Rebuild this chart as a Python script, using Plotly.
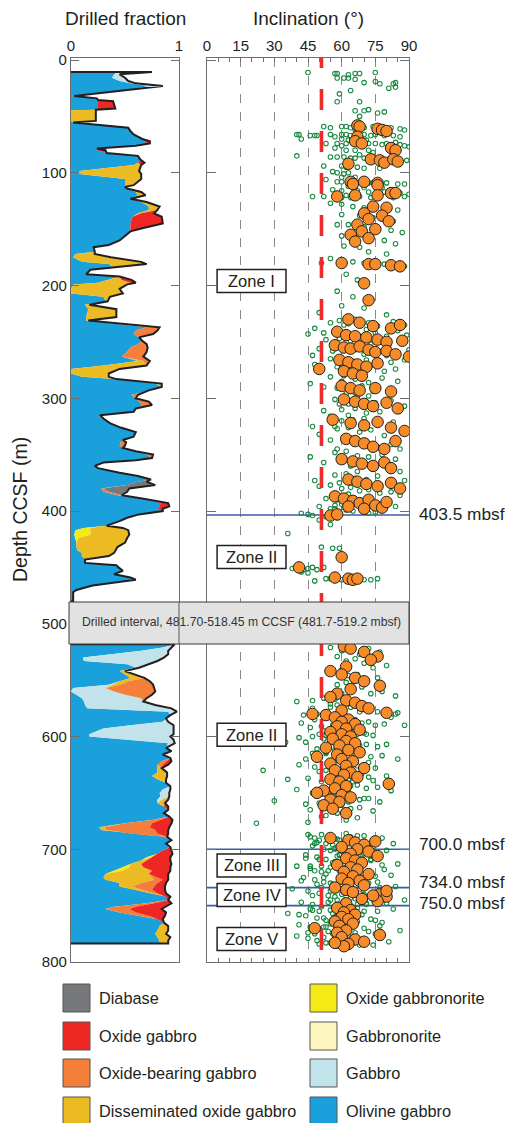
import plotly.graph_objects as go

W, H = 517, 1123
OFF = 8  # page body margin in the browser
def px(x): return (x - OFF) / W
def py(y): return 1 - (y - OFF) / H

FONT = "Liberation Sans, Arial, Helvetica, sans-serif"
INK = "#231f20"
FRAME = "#6d6e70"

# ---------------- Lithology fractions (depth m CCSF -> fraction) ----------------
olivine_gabbro = {
    10.6: .43, 12.7: .40, 15.7: .38, 18.6: .45, 20.7: .55, 23: .72, 25: .62, 32: 0.0, 34: .24, 35.5: .25,
    36.5: .25, 43: .25, 44: .23, 44.5: 0.0, 54: 0.0, 55.5: .02, 60: .53, 63: .55, 66: .58, 70: .66,
    72: .70, 74: .68, 76: .60, 78.5: .24, 80: .24, 82.5: .33, 85: .62, 88: .64, 91: .62, 93: .58,
    98.5: .08, 101: .08, 105.5: .50, 111: .50, 112.5: .50, 114: .52, 117: .60, 120: .62, 123: .55, 126: .65,
    130: .72, 133: .72, 136: .62, 139: .57, 145: .55, 149: .55, 152: .55, 156: .50, 160: .45, 164: .35,
    166: .21, 170: .22, 172: .04, 175: .02, 179: .10, 181: .35, 184: .38, 186: .18, 190: .14, 192: .45,
    195: .33, 197.5: .25, 199: .02, 203: 0.0, 207: 0.0, 210: .30, 214: .32, 217: .13, 221: .16, 228: .14,
    231: .14, 237: .70, 240: .60, 243: .58, 246: .63, 249: .66, 252: .62, 255: .55, 259: .52, 263: .47,
    267: .62, 271: .30, 274: 0.0, 278: 0.0, 281: .10, 283: .40, 287: .78, 290: .84, 293: .72, 297: .56,
    300: .60, 303: .63, 306: .66, 309: .60, 312: .58, 315: .24, 318: .30, 322: .36, 326: .46, 330: .60,
    334: .58, 337: .48, 339: .46, 342: .45, 344: .48, 347: .60, 350: .70, 353: .75, 355: .60, 357: .30,
    360: .22, 362: .25, 366: .45, 369: .62, 372: .74, 374: .62, 377: .52, 380: .28, 383: .30, 386: .43,
    389: .66, 393: .83, 396: .82, 398: .80, 400: .85, 403: .63, 406: .52, 409: .45, 413: .33, 415: .12,
    417: .04, 421: .03, 424: .04, 428: .05, 432: .05, 435: .06, 437: .10, 440: .10, 443: .13, 446: .13,
    448: .42, 450: .44, 453: .48, 456: .40, 459: .55, 461: .60, 463: .45, 466: .20, 470: .05, 472: .02,
    480: .02,
    518.2: .96, 521: .85, 524: .65, 527: .40, 530: .11, 533: .12, 536: .52, 539: .60, 542: .45, 545: .50,
    548: .55, 551: .45, 554: .35, 557: .02, 560: 0.0, 563: .05, 566: .10, 569: .12, 572: .13, 575: .15,
    578: .90, 581: .92, 584: .88, 587: .85, 590: .55, 593: .30, 598: .17, 600: .17, 603: .55, 606: .90,
    610: .88, 613: .93, 616: .85, 619: .92, 622: .84, 625: .80, 628: .80, 632: .80, 635: .75, 638: .80,
    641: .88, 644: .92, 647: .85, 650: .82, 653: .83, 656: .80, 659: .80, 662: .86, 665: .90, 668: .86,
    671: .91, 674: .75, 677: .50, 680.5: .26, 683: .28, 686: .55, 689: .86, 692: .93, 695: .88, 698: .92,
    701: .85, 704: .80, 707: .70, 710: .65, 713: .55, 716: .48, 719: .40, 722: .32, 725: .30, 727: .32,
    730: .45, 733: .45, 736: .60, 739: .75, 742: .87, 745: .90, 748: .70, 751: .40, 753: .32, 756: .45,
    759: .62, 762: .80, 765: .86, 768: .82, 772: .80, 775: .78, 778: .80, 781: .82, 783.5: .82,
}
gabbro = {
    10.6: .32, 12.7: .05, 15.7: .12, 18.6: .08, 20.7: .05, 23: .13,
    521: .08, 524: .25, 527: .50, 530: .75, 533: .68, 536: .20, 539: .03, 554: .03, 557: .30, 560: .40,
    563: .45, 566: .55, 569: .55, 572: .65, 575: .78, 578: .08, 587: .05, 590: .40, 593: .65, 598: .78,
    600: .75, 603: .40, 606: .06, 647: .07, 650: .09, 653: .08, 656: .04,
}
gabbronorite = {}
oxide_gabbronorite = {
    415: .06, 417: .14, 421: .15, 424: .03, 707: .05, 716: .06, 719: .08,
}
dissem_oxide_gabbro = {
    44.5: .23, 54: .23, 93: .07, 98.5: .55, 101: .57, 105.5: .15, 111: .08, 117: .05, 120: .07, 126: .05,
    130: .10, 133: .08, 136: .03, 172: .18, 175: .35, 179: .55, 181: .35, 195: .14, 197.5: .30, 199: .50,
    203: .45, 207: .48, 210: .06, 214: .02, 217: .04, 221: .26, 228: .28, 231: .02, 267: .05, 271: .40,
    274: .45, 278: .35, 281: .25, 283: .02, 287: .06, 415: .30, 417: .35, 421: .36, 424: .45, 428: .45,
    432: .38, 435: .35, 437: .30, 440: .25,
    542: .05, 545: .10, 548: .13, 551: .08, 554: .08, 628: .04, 632: .09, 635: .14, 638: .08, 656: .06,
    659: .07, 680.5: .05, 683: .05, 710: .05, 713: .10, 716: .13, 719: .27, 722: .40, 725: .45, 727: .45,
    730: .20, 733: .12, 736: .05, 768: .08, 772: .10, 775: .10, 778: .12, 781: .08, 783.5: .08,
}
oxide_bearing_gabbro = {
    237: .12, 240: .20, 243: .18, 252: .08, 255: .16, 259: .18, 263: .20, 267: .06, 297: .06, 303: .09,
    306: .09, 339: .05, 342: .05, 350: .04, 380: .02, 383: .05, 386: .04,
    551: .20, 554: .30, 557: .45, 560: .38, 563: .25, 566: .05, 622: .04, 625: .05, 674: .08, 677: .25,
    680.5: .42, 683: .45, 686: .25, 689: .03, 725: .05, 727: .08, 730: .15, 733: .20, 736: .10, 739: .05,
    748: .07, 751: .20, 753: .22, 756: .15, 759: .10,
}
oxide_gabbro = {
    25: .05, 32: .03, 36.5: .14, 43: .16, 72: .03, 74: .05, 80: .08, 91: .06, 136: .12, 139: .27,
    145: .30, 149: .12, 195: .09, 197.5: .05, 315: .03, 393: .07, 396: .09, 398: .05,
    622: .05, 625: .05, 662: .04, 674: .11, 677: .18, 680.5: .18, 683: .12, 686: .10, 701: .08, 704: .14,
    707: .17, 710: .22, 713: .28, 716: .25, 719: .17, 722: .18, 725: .10, 727: .05, 730: .08, 733: .10,
    736: .12, 739: .08, 742: .05, 748: .16, 751: .28, 753: .30, 756: .28, 759: .15, 762: .05,
}
diabase = {350: .02, 374: .08, 377: .26, 380: .24, 383: .17}

lith_names = ["Olivine gabbro", "Gabbro", "Gabbronorite", "Oxide gabbronorite",
              "Disseminated oxide gabbro", "Oxide-bearing gabbro", "Oxide gabbro", "Diabase"]
lith_colors = ["#1aa0da", "#c2e3ea", "#fdf6be", "#f6ea16", "#ecbb23", "#f47f3a", "#ee2624", "#77787b"]
lith_data = [olivine_gabbro, gabbro, gabbronorite, oxide_gabbronorite,
             dissem_oxide_gabbro, oxide_bearing_gabbro, oxide_gabbro, diabase]

# ---------------- Inclination data ----------------
green_depth = [
    11, 12, 12, 13, 12, 12, 11, 16, 16, 16,
    17, 20, 21, 21, 20, 25, 24, 19, 30, 37,
    37, 27, 45, 45, 44, 47, 46, 50, 59, 60,
    59, 59, 60, 60, 59, 60, 61, 62, 66, 66,
    67, 67, 67, 66, 66, 66, 67, 67, 66, 67,
    66, 67, 67, 68, 70, 70, 71, 71, 74, 74,
    74, 74, 73, 74, 74, 75, 74, 73, 75, 76,
    77, 78, 80, 80, 80, 82, 81, 85, 86, 86,
    86, 87, 87, 87, 88, 88, 89, 89, 94, 94,
    95, 95, 96, 99, 100, 100, 101, 104, 106, 108,
    108, 108, 109, 109, 109, 110, 110, 112, 113, 113,
    115, 116, 116, 117, 117, 117, 118, 119, 121, 121,
    122, 122, 122, 121, 122, 122, 122, 121, 127, 128,
    130, 131, 129, 132, 133, 137, 138, 140, 141, 143,
    146, 146, 148, 150, 151, 153, 156, 157, 159, 160,
    163, 165, 166, 170, 172, 176, 178, 179, 180, 181,
    182, 183, 180, 190, 195, 205, 210, 218, 220, 224,
    226, 230, 231, 232, 233, 233, 234, 235, 236, 238,
    239, 240, 240, 241, 242, 242, 243, 244, 245, 247,
    248, 249, 249, 250, 251, 252, 253, 255, 256, 257,
    257, 258, 259, 260, 261, 262, 264, 265, 266, 266,
    267, 268, 268, 270, 271, 272, 273, 274, 275, 276,
    280, 281, 282, 283, 285, 286, 289, 290, 291, 292,
    293, 294, 296, 298, 299, 301, 302, 303, 304, 305,
    307, 309, 310, 312, 313, 316, 318, 319, 320, 321,
    322, 325, 326, 327, 328, 330, 331, 333, 336, 337,
    338, 340, 341, 343, 345, 347, 348, 350, 351, 352,
    354, 356, 357, 358, 360, 361, 363, 365, 367, 368,
    369, 371, 372, 373, 375, 377, 378, 379, 380, 381,
    382, 383, 384, 386, 388, 389, 390, 391, 392, 393,
    394, 395, 396, 397, 398, 399, 400, 401, 402, 403,
    402, 404, 405, 406, 408, 412, 420, 432, 433, 433,
    451, 451, 452, 451, 450, 452, 450, 454, 460, 460,
    461, 461, 462, 461, 462, 461, 461, 460, 455, 462,
    520, 521, 522, 524, 525, 527, 529, 531, 533, 535,
    537, 539, 541, 543, 545, 546, 548, 550, 552, 554,
    556, 558, 560, 562, 564, 566, 568, 570, 571, 572,
    573, 574, 575, 576, 577, 578, 579, 580, 581, 582,
    583, 584, 585, 586, 587, 588, 589, 590, 591, 592,
    593, 594, 595, 596, 597, 598, 599, 600, 601, 602,
    603, 604, 605, 606, 607, 608, 609, 610, 611, 612,
    613, 614, 615, 616, 617, 618, 619, 620, 621, 622,
    623, 624, 625, 626, 627, 628, 629, 630, 631, 632,
    633, 634, 635, 636, 637, 638, 639, 640, 641, 642,
    643, 644, 645, 646, 647, 648, 649, 650, 651, 652,
    653, 654, 655, 656, 657, 658, 659, 660, 661, 662,
    663, 664, 665, 666, 668, 670, 672, 674, 676, 677,
    630, 585, 595, 605, 615, 625, 640, 650, 660, 610,
    686, 687, 688, 689, 690, 691, 692, 693, 694, 695,
    696, 697, 698, 699, 700, 701, 702, 703, 704, 705,
    706, 707, 708, 709, 710, 711, 712, 713, 714, 715,
    716, 717, 718, 719, 720, 721, 722, 723, 724, 725,
    726, 727, 728, 729, 730, 731, 732, 733, 734, 735,
    736, 737, 738, 739, 740, 741, 742, 743, 744, 745,
    746, 747, 748, 749, 750, 751, 752, 753, 754, 755,
    756, 757, 758, 759, 760, 761, 762, 763, 764, 765,
    766, 767, 768, 769, 770, 771, 772, 773, 774, 775,
    776, 777, 778, 779, 780, 781, 782, 783, 784, 785,
    690, 700, 710, 720, 730, 740, 750, 760, 770, 780,
    695, 705, 715, 725, 735, 745, 755, 765, 775, 785,
    687, 689, 691, 693, 695, 697, 699, 701, 703, 705,
    707, 709, 711, 713, 715, 717, 719, 721, 723, 725,
    727, 729, 731, 733, 735, 737, 739, 741, 743, 745,
    747, 749, 751, 753, 755, 757, 759, 761, 763, 765,
    767, 769, 771, 773, 775, 777, 779, 781, 783, 785,
    688, 698, 708, 718, 728, 738, 748, 758, 768, 778,
    692, 702, 712, 722, 732, 742, 752, 762, 772, 782,
    694, 704, 714, 724, 734, 744, 754, 764, 774, 784,
    706, 716, 726, 736, 746, 756, 766, 776, 786, 696,
    709, 719, 729, 739, 749, 759, 769, 779, 689, 699,
    562, 567, 571, 574, 578, 582, 586, 590, 594, 598,
    602, 606, 610, 614, 618, 622, 626, 630, 634, 638,
    642, 646, 650, 654, 658, 662, 666, 578, 588, 598,
    569, 577, 583, 591, 599, 607, 615, 623, 631, 639,
    647, 655, 663, 671, 620, 605, 590, 580, 575, 600,
    235, 245, 255, 265, 275, 285, 295, 305, 315, 325,
    335, 345, 355, 365, 375, 385, 395, 398, 394, 390,
    62, 68, 72, 76, 84, 90, 96, 104, 112, 120,
    243, 262, 287, 311, 332, 352, 373, 396, 399, 401,
]
green_incl = [
    45, 57, 58, 63, 66, 68, 75, 58, 61, 63,
    66, 70, 77, 83, 84, 81, 84, 75, 59, 58,
    68, 64, 66, 70, 72, 76, 79, 68, 52, 55,
    60, 62, 64, 70, 74, 82, 86, 88, 40, 41,
    46, 48, 49, 55, 60, 62, 64, 66, 70, 73,
    75, 79, 83, 86, 42, 60, 63, 71, 53, 58,
    62, 65, 70, 72, 75, 78, 80, 84, 86, 88,
    90, 57, 62, 66, 72, 74, 85, 40, 55, 58,
    61, 64, 66, 70, 76, 81, 86, 89, 52, 60,
    62, 67, 77, 56, 58, 63, 61, 66, 53, 58,
    60, 68, 72, 74, 80, 85, 88, 63, 70, 78,
    56, 60, 67, 72, 76, 79, 86, 90, 47, 52,
    57, 60, 64, 68, 73, 77, 83, 88, 55, 60,
    65, 70, 75, 80, 85, 60, 68, 74, 78, 83,
    58, 63, 70, 75, 82, 87, 60, 66, 72, 79,
    84, 61, 68, 72, 80, 55, 60, 65, 70, 79,
    84, 88, 51, 62, 67, 58, 65, 60, 70, 50,
    80, 66, 59, 83, 55, 72, 63, 88, 76, 48,
    71, 57, 85, 62, 52, 75, 66, 89, 80, 59,
    53, 77, 64, 86, 69, 73, 81, 61, 50, 90,
    66, 56, 75, 85, 70, 80, 60, 55, 71, 88,
    65, 76, 82, 48, 73, 58, 63, 84, 68, 79,
    61, 55, 78, 66, 85, 72, 69, 52, 58, 64,
    81, 74, 62, 72, 67, 57, 82, 68, 75, 63,
    88, 66, 60, 77, 71, 55, 70, 65, 60, 83,
    76, 47, 63, 58, 73, 68, 87, 79, 61, 55,
    71, 66, 82, 76, 86, 62, 57, 78, 67, 72,
    84, 59, 52, 69, 64, 80, 74, 86, 62, 57,
    76, 66, 71, 88, 81, 55, 50, 64, 60, 72,
    68, 82, 77, 86, 58, 53, 66, 62, 73, 70,
    80, 77, 84, 61, 57, 69, 65, 75, 72, 45,
    42, 47, 53, 58, 50, 55, 36, 51, 56, 59,
    38, 40, 43, 45, 47, 49, 52, 42, 53, 55,
    60, 62, 64, 66, 68, 70, 73, 76, 45, 48,
    64, 55, 72, 60, 77, 68, 58, 66, 62, 70,
    80, 74, 60, 56, 67, 63, 76, 71, 62, 58,
    69, 65, 78, 73, 84, 52, 47, 61, 55, 58,
    67, 64, 73, 70, 80, 76, 85, 49, 43, 53,
    60, 57, 66, 63, 72, 69, 79, 75, 51, 46,
    58, 55, 64, 61, 70, 67, 74, 47, 41, 52,
    59, 56, 65, 62, 71, 68, 76, 54, 49, 57,
    63, 60, 69, 66, 78, 73, 50, 44, 58, 55,
    64, 61, 70, 67, 48, 75, 57, 53, 63, 60,
    69, 66, 80, 72, 45, 36, 55, 51, 61, 58,
    67, 64, 76, 71, 40, 82, 52, 47, 59, 56,
    65, 62, 72, 68, 30, 77, 50, 44, 60, 55,
    68, 64, 46, 74, 58, 53, 67, 62, 45, 22,
    25, 48, 52, 44, 53, 41, 65, 54, 58, 61,
    62, 45, 70, 54, 78, 58, 50, 66, 74, 83,
    56, 47, 72, 60, 52, 80, 64, 68, 76, 44,
    61, 49, 69, 53, 73, 57, 65, 85, 78, 40,
    55, 46, 67, 59, 51, 71, 63, 82, 75, 43,
    60, 48, 68, 52, 72, 56, 64, 84, 77, 38,
    58, 45, 66, 50, 70, 54, 62, 80, 74, 88,
    63, 42, 71, 47, 59, 51, 67, 83, 55, 76,
    61, 36, 69, 44, 57, 49, 73, 53, 65, 78,
    58, 41, 62, 46, 70, 50, 86, 54, 66, 75,
    57, 40, 65, 45, 61, 49, 81, 53, 69, 74,
    48, 57, 62, 66, 55, 60, 64, 58, 63, 59,
    53, 59, 51, 61, 65, 55, 50, 62, 56, 60,
    51, 64, 57, 70, 48, 61, 67, 55, 73, 59,
    63, 50, 68, 58, 46, 65, 54, 72, 61, 52,
    66, 59, 49, 71, 62, 55, 68, 47, 64, 58,
    54, 67, 60, 46, 70, 56, 63, 52, 75, 59,
    64, 53, 60, 72, 48, 57, 66, 62, 55, 68,
    67, 74, 44, 79, 42, 76, 80, 41, 77, 52,
    59, 61, 56, 53, 60, 57, 62, 56, 59, 63,
    49, 70, 65, 68, 51, 66, 47, 67, 45, 50,
    58, 62, 63, 57, 61, 60, 55, 63, 58, 65,
    73, 48, 76, 64, 71, 58, 52, 67, 46, 57,
    60, 57, 63, 55, 68, 59, 62, 56, 65, 50,
    61, 57, 64, 53, 60, 66, 56, 62, 58, 63,
    57, 62, 55, 60, 63, 52, 61, 46, 42, 71,
    40, 72, 82, 66, 53, 80, 47, 72, 50, 74,
    63, 70, 57, 51, 85, 35, 88, 84, 47, 60,
    61, 68, 62, 58, 64, 60, 66, 59, 63, 57,
    64, 58, 61, 67, 59, 63, 57, 55, 60, 58,
    66, 57, 68, 60, 68, 72, 70, 60, 66, 62,
    45, 47, 46, 52, 50, 46, 48, 50, 62, 59,
]
orange_depth = [
    58, 59, 61, 62, 63, 68, 72, 74, 78, 80,
    88, 89, 91, 88, 90, 92, 108, 110, 108, 109,
    111, 118, 118, 121, 120, 120, 130, 131, 136, 138,
    141, 143, 146, 150, 152, 155, 158, 161, 180, 181,
    181, 182, 183, 198, 213, 230, 233, 236, 238, 235,
    241, 244, 245, 246, 248, 250, 249, 253, 255, 256,
    254, 257, 259, 258, 261, 263, 266, 268, 270, 272,
    269, 274, 276, 278, 280, 289, 291, 293, 291, 294,
    301, 303, 305, 307, 304, 309, 319, 322, 324, 321,
    326, 329, 336, 338, 340, 343, 345, 338, 354, 356,
    358, 360, 357, 362, 372, 374, 376, 378, 375, 380,
    387, 389, 391, 393, 390, 395, 397, 396, 398, 392,
    404, 403, 441, 450, 459, 460, 461, 460,
    520, 522, 525, 529, 532, 538, 542, 545, 548, 551,
    555, 558, 562, 565, 568, 570, 573, 575, 577, 579,
    580, 581, 583, 585, 587, 589, 591, 593, 594, 596,
    598, 600, 602, 604, 606, 608, 610, 612, 614, 616,
    618, 620, 622, 624, 626, 628, 630, 632, 634, 636,
    638, 640, 642, 644, 646, 648, 650, 652, 654, 656,
    658, 661, 664, 668, 690, 692, 694, 696, 693, 698,
    700, 702, 704, 706, 708, 710, 712, 714, 716, 718,
    720, 722, 724, 726, 728, 730, 732, 734, 736, 738,
    740, 742, 744, 746, 737, 741, 748, 752, 754, 756,
    758, 760, 762, 764, 766, 768, 770, 772, 774, 776,
    778, 780, 782, 784, 786, 783,
]
orange_incl = [
    67, 68, 76, 78, 80, 67, 66, 69, 82, 84,
    73, 77, 79, 83, 85, 63, 64, 65, 70, 76,
    76, 82, 84, 58, 66, 76, 74, 80, 70, 78,
    72, 81, 67, 75, 69, 64, 72, 66, 60, 72,
    75, 82, 86, 70, 72, 63, 68, 74, 82, 86,
    58, 62, 66, 71, 76, 80, 87, 57, 61, 64,
    68, 72, 75, 80, 84, 90, 59, 63, 67, 71,
    76, 50, 61, 65, 69, 60, 64, 68, 75, 82,
    61, 66, 70, 74, 80, 85, 56, 64, 70, 76,
    82, 88, 62, 66, 70, 74, 79, 84, 60, 65,
    69, 74, 79, 82, 63, 67, 71, 76, 82, 86,
    57, 61, 65, 68, 72, 75, 78, 63, 70, 80,
    55, 58, 60, 41, 57, 63, 65, 67,
    61, 64, 70, 76, 73, 62, 55, 60, 66, 70,
    77, 64, 58, 55, 62, 66, 69, 72, 60, 80,
    47, 53, 57, 63, 60, 66, 58, 62, 68, 55,
    60, 64, 56, 62, 66, 59, 53, 63, 68, 58,
    49, 60, 65, 55, 62, 70, 57, 64, 61, 67,
    55, 59, 81, 62, 57, 52, 49, 60, 64, 55,
    59, 52, 56, 62, 55, 63, 66, 70, 75, 60,
    67, 72, 64, 76, 62, 66, 69, 58, 64, 67,
    61, 72, 65, 60, 68, 63, 70, 57, 62, 65,
    77, 80, 69, 76, 80, 74, 62, 58, 64, 61,
    66, 60, 63, 57, 65, 59, 48, 62, 58, 77,
    60, 66, 70, 63, 61, 57,
]
assert len(green_depth) == len(green_incl)
assert len(orange_depth) == len(orange_incl)

mbsf_depths = [403.5, 700.0, 734.0, 750.0]
mbsf_label_y = [514, 844, 882, 903]
zone_names = ["Zone I", "Zone II", "Zone II", "Zone III", "Zone IV", "Zone V"]
zone_centers = [196.0, 440.8, 598.4, 714.4, 740.6, 779.6]
mean_inclination = 51.0
gap_top, gap_bottom = 481.70, 518.45

# ---------------- Figure ----------------
fig = go.Figure()

depth_all = sorted(olivine_gabbro.keys())
for dct in lith_data[1:]:
    for k in dct:
        assert k in olivine_gabbro, k

for lo, hi in [(0, gap_top), (gap_bottom - 1, 800)]:
    ds = [d for d in depth_all if lo <= d <= hi]
    cum = [0.0] * len(ds)
    for j, (dct, col) in enumerate(zip(lith_data, lith_colors)):
        cum = [c + dct.get(d, 0.0) for c, d in zip(cum, ds)]
        fig.add_trace(go.Scatter(
            x=cum, y=ds, mode="lines", line=dict(width=0, color=col),
            fill="tozerox" if j == 0 else "tonextx", fillcolor=col,
            xaxis="x", yaxis="y", showlegend=False, hoverinfo="skip"))
    fig.add_trace(go.Scatter(
        x=[0] + cum + [0], y=[ds[0]] + ds + [ds[-1]], mode="lines",
        line=dict(width=2, color=INK), xaxis="x", yaxis="y",
        showlegend=False, hoverinfo="skip"))

# mbsf boundary lines
for d in mbsf_depths:
    fig.add_trace(go.Scatter(x=[0, 90], y=[d, d], mode="lines",
                             line=dict(color="#3b5ca8", width=1.6),
                             xaxis="x2", yaxis="y2", showlegend=False, hoverinfo="skip"))

fig.add_trace(go.Scatter(
    x=green_incl, y=green_depth, mode="markers",
    marker=dict(symbol="circle-open", size=4.5, color="#17893f", line=dict(width=1.1)),
    xaxis="x2", yaxis="y2", showlegend=False, hoverinfo="skip"))

fig.add_trace(go.Scatter(
    x=[mean_inclination, mean_inclination], y=[-11.5, 800], mode="lines",
    line=dict(color="#ee2a2a", width=3.6, dash="21px,21px"),
    xaxis="x2", yaxis="y2", showlegend=False, hoverinfo="skip"))

fig.add_trace(go.Scatter(
    x=orange_incl, y=orange_depth, mode="markers",
    marker=dict(symbol="circle", size=11.5, color="#f68b28", line=dict(width=1, color=INK)),
    xaxis="x2", yaxis="y2", showlegend=False, hoverinfo="skip"))

shapes = []
annotations = []

def txt(x, y, s, size, xanchor="center", color=INK, **kw):
    return dict(xref="paper", yref="paper", x=px(x), y=py(y), text=s, showarrow=False,
                xanchor=xanchor, yanchor="middle", font=dict(size=size, color=color, family=FONT), **kw)

# zone boxes
for name, c in zip(zone_names, zone_centers):
    shapes.append(dict(type="rect", xref="x2", yref="y2", x0=4.5, x1=35.2,
                       y0=c - 10.2, y1=c + 10.2, fillcolor="white",
                       line=dict(color=INK, width=1.5), layer="above"))
    annotations.append(dict(xref="x2", yref="y2", x=19.85, y=c, text=name, showarrow=False,
                            xanchor="center", yanchor="middle",
                            font=dict(size=16.5, color=INK, family=FONT)))

# drilled interval box
shapes.append(dict(type="rect", xref="paper", yref="paper", x0=px(69), x1=px(409),
                   y0=py(644), y1=py(602), fillcolor="#e2e2e2",
                   line=dict(color="#3a3a3a", width=1), layer="above"))
shapes.append(dict(type="line", xref="paper", yref="paper", x0=px(179), x1=px(179),
                   y0=py(644), y1=py(602), line=dict(color=FRAME, width=1.2), layer="above"))
annotations.append(txt(241, 622, "Drilled interval, 481.70-518.45 m CCSF (481.7-519.2 mbsf)",
                       12.2, color="#333"))

# mbsf labels
for d, yy in zip(mbsf_depths, mbsf_label_y):
    annotations.append(txt(417, yy, f"{d:.1f} mbsf", 17.3, xanchor="left"))

# titles
annotations += [
    txt(125, 18, "Drilled fraction", 19),
    txt(308, 18, "Inclination (°)", 19),
    txt(20, 510, "Depth CCSF (m)", 19.5, textangle=-90),
]

# legend
legend_col1 = ["Diabase", "Oxide gabbro", "Oxide-bearing gabbro", "Disseminated oxide gabbro"]
legend_col2 = ["Oxide gabbronorite", "Gabbronorite", "Gabbro", "Olivine gabbro"]
row_y = [998, 1036, 1073, 1111]
for col_names, sx in [(legend_col1, 63), (legend_col2, 310)]:
    for nm, yc in zip(col_names, row_y):
        col = lith_colors[lith_names.index(nm)]
        shapes.append(dict(type="rect", xref="paper", yref="paper", x0=px(sx), x1=px(sx + 27),
                           y0=py(yc + 14), y1=py(yc - 14), fillcolor=col,
                           line=dict(color="#555", width=1)))
        annotations.append(txt(sx + 34, yc, nm, 16.3, xanchor="left"))

ydom = [py(962), py(58)]
fig.update_layout(
    width=W, height=H, margin=dict(l=0, r=0, t=0, b=0),
    paper_bgcolor="white", plot_bgcolor="white",
    font=dict(family=FONT, color=INK),
    xaxis=dict(domain=[px(71), px(179)], range=[0, 1], side="top", tickvals=[0, 1],
               ticks="", showline=True, linecolor=FRAME, linewidth=1.2, mirror=True,
               showgrid=False, zeroline=False, tickfont=dict(size=15), anchor="y",
               automargin=False),
    yaxis=dict(domain=ydom, range=[800, -1.8], tickvals=list(range(0, 801, 100)),
               ticks="inside", ticklen=8, tickcolor=FRAME, showline=True, linecolor=FRAME,
               linewidth=1.2, mirror="ticks", showgrid=False, zeroline=False,
               tickfont=dict(size=15), anchor="x", automargin=False),
    xaxis2=dict(domain=[px(207), px(409)], range=[0, 90], side="top",
                tickvals=list(range(0, 91, 15)), ticks="inside", ticklen=4, tickcolor=FRAME,
                minor=dict(dtick=5, tick0=0, ticks="inside", ticklen=4, tickcolor=FRAME, showgrid=False),
                showline=True, linecolor=FRAME, linewidth=1.2, mirror="ticks",
                showgrid=True, griddash="dash", gridcolor="#8a8a8a", gridwidth=0.8,
                zeroline=False, tickfont=dict(size=15), anchor="y2", automargin=False),
    yaxis2=dict(domain=ydom, range=[800, -1.8], tickvals=list(range(0, 801, 100)),
                ticks="inside", ticklen=9, tickcolor=FRAME, showline=True, linecolor=FRAME,
                linewidth=1.2, mirror="ticks", showgrid=False, zeroline=False,
                showticklabels=False, anchor="x2", automargin=False),
    shapes=shapes, annotations=annotations,
)

fig.write_html("out.html")
